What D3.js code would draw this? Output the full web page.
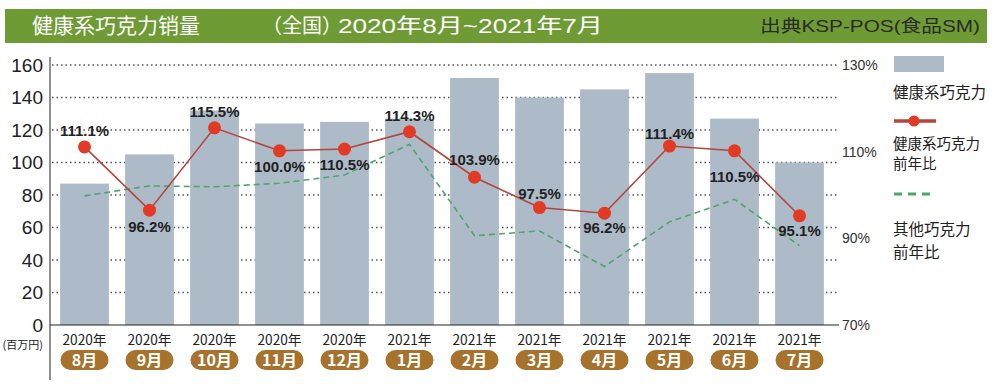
<!DOCTYPE html>
<html>
<head>
<meta charset="utf-8">
<script src="https://cdn.jsdelivr.net/npm/d3@7"></script>
<style>
  html, body { margin: 0; padding: 0; background: #fff; }
  svg { display: block; }
  text { font-family: "Liberation Sans", Arial, "Noto Sans CJK JP", sans-serif; }
  .cjk { font-family: "Noto Sans CJK JP", "Noto Sans CJK SC", sans-serif; }
</style>
</head>
<body>
<div id="chart"></div>
<script>
// DATA
const years = ["2020年", "2020年", "2020年", "2020年", "2020年", "2021年", "2021年", "2021年", "2021年", "2021年", "2021年", "2021年"];
const months = ["8月", "9月", "10月", "11月", "12月", "1月", "2月", "3月", "4月", "5月", "6月", "7月"];
// 健康系巧克力 sales (百万円)
const healthySales = [87, 105, 132, 124, 125, 127, 152, 140, 145, 155, 127, 100];
// 健康系巧克力 前年比 (as plotted)
const healthyYoY = [111.1, 96.5, 115.5, 110.2, 110.6, 114.6, 104.1, 97.1, 95.8, 111.3, 110.2, 95.2];
// labels printed next to the points
const healthyYoYLabels = ["111.1%", "96.2%", "115.5%", "100.0%", "110.5%", "114.3%", "103.9%", "97.5%", "96.2%", "111.4%", "110.5%", "95.1%"];
// 其他巧克力 前年比
const otherYoY = [99.8, 102.1, 101.9, 102.7, 104.6, 111.7, 90.6, 91.7, 83.5, 93.8, 99.0, 88.3];
const leftTicks = [0, 20, 40, 60, 80, 100, 120, 140, 160];
const rightTicks = [70, 90, 110, 130];

// colours
const headerGreen = "#6e9b34";
const barGrey = "#adbac8";
const lineRed = "#b5453a";
const dotRed = "#e23a24";
const dashGreen = "#4fa66c";
const badgeBrown = "#a6722c";

const width = 1003, height = 390;

const svg = d3.select("#chart").append("svg")
    .attr("width", width)
    .attr("height", height);

// HEADER
svg.append("rect")
    .attr("x", 5).attr("y", 9)
    .attr("width", 982).attr("height", 34)
    .attr("fill", headerGreen);

svg.append("text").attr("class", "cjk")
    .attr("x", 32).attr("y", 33)
    .attr("fill", "#fff").attr("font-size", 21)
    .text("健康系巧克力销量");

svg.append("text").attr("class", "cjk")
    .attr("x", 262).attr("y", 33)
    .attr("fill", "#fff").attr("font-size", 20)
    .text("（全国）");

svg.append("text")
    .attr("x", 338).attr("y", 33)
    .attr("fill", "#fff").attr("font-size", 20)
    .attr("textLength", 265).attr("lengthAdjust", "spacingAndGlyphs")
    .text("2020年8月~2021年7月");

svg.append("text")
    .attr("x", 760).attr("y", 32)
    .attr("fill", "#2a2a2a").attr("font-size", 17)
    .attr("textLength", 220).attr("lengthAdjust", "spacingAndGlyphs")
    .text("出典KSP-POS(食品SM)");

// SCALES
const x = d3.scaleBand()
    .domain(d3.range(months.length))
    .range([52, 832])
    .paddingInner(0.25)
    .paddingOuter(0.125);

const yL = d3.scaleLinear().domain([0, 160]).range([325, 65]);
const yR = d3.scaleLinear().domain([70, 130]).range([325, 65]);
const cx = i => x(i) + x.bandwidth() / 2;

// dotted gridlines
svg.append("g")
    .selectAll("line")
    .data(leftTicks.slice(1))
    .join("line")
    .attr("x1", 52).attr("x2", 837)
    .attr("y1", d => yL(d)).attr("y2", d => yL(d))
    .attr("stroke", "#555")
    .attr("stroke-width", 1.5)
    .attr("stroke-dasharray", "1.5,3");

// bars
svg.append("g")
    .selectAll("rect")
    .data(healthySales)
    .join("rect")
    .attr("x", (d, i) => x(i))
    .attr("width", x.bandwidth())
    .attr("y", d => yL(d))
    .attr("height", d => yL(0) - yL(d))
    .attr("fill", barGrey);

// left axis
const leftAxis = svg.append("g")
    .attr("transform", "translate(50,0)")
    .call(d3.axisLeft(yL).tickValues(leftTicks).tickSize(0).tickPadding(7));
leftAxis.select(".domain").remove();
leftAxis.selectAll("text")
    .attr("font-size", 19)
    .attr("fill", "#222")
    .style("font-family", "'Liberation Sans', Arial, sans-serif");

svg.append("text").attr("class", "cjk")
    .attr("x", 43).attr("y", 349)
    .attr("text-anchor", "end")
    .attr("font-size", 11)
    .attr("fill", "#222")
    .text("(百万円)");

svg.append("line")
    .attr("x1", 50).attr("x2", 50)
    .attr("y1", 57).attr("y2", 380)
    .attr("stroke", "#222").attr("stroke-width", 1);

// baseline
svg.append("line")
    .attr("x1", 50).attr("x2", 839)
    .attr("y1", yL(0)).attr("y2", yL(0))
    .attr("stroke", "#222").attr("stroke-width", 1);

// right axis
const rightAxis = svg.append("g")
    .attr("transform", "translate(837,0)")
    .call(d3.axisRight(yR).tickValues(rightTicks).tickSize(0).tickPadding(5).tickFormat(d => d + "%"));
rightAxis.select(".domain").remove();
rightAxis.selectAll("text")
    .attr("font-size", 14)
    .attr("fill", "#333")
    .style("font-family", "'Liberation Sans', Arial, sans-serif");

// other chocolate YoY (green dashed)
svg.append("path")
    .datum(otherYoY)
    .attr("d", d3.line().x((d, i) => cx(i)).y(d => yR(d)))
    .attr("fill", "none")
    .attr("stroke", dashGreen)
    .attr("stroke-width", 1.6)
    .attr("stroke-dasharray", "6,4");

// healthy chocolate YoY (red)
svg.append("path")
    .datum(healthyYoY)
    .attr("d", d3.line().x((d, i) => cx(i)).y(d => yR(d)))
    .attr("fill", "none")
    .attr("stroke", lineRed)
    .attr("stroke-width", 1.6);

svg.append("g")
    .selectAll("circle")
    .data(healthyYoY)
    .join("circle")
    .attr("cx", (d, i) => cx(i))
    .attr("cy", d => yR(d))
    .attr("r", 6.5)
    .attr("fill", dotRed);

// value labels, above (negative) or below (positive) the point
const labelDy = [-11, 22, -11, 21, 21, -11, -12, -9, 20, -7, 31, 20];
svg.append("g")
    .selectAll("text")
    .data(healthyYoY)
    .join("text")
    .attr("x", (d, i) => cx(i))
    .attr("y", (d, i) => yR(d) + labelDy[i])
    .attr("text-anchor", "middle")
    .attr("font-size", 15)
    .attr("font-weight", "bold")
    .attr("fill", "#222")
    .text((d, i) => healthyYoYLabels[i]);

// x labels: year + month badge
const xl = svg.append("g")
    .selectAll("g")
    .data(months)
    .join("g")
    .attr("transform", (d, i) => `translate(${cx(i)},0)`);

xl.append("text").attr("class", "cjk")
    .attr("y", 345)
    .attr("text-anchor", "middle")
    .attr("font-size", 14)
    .attr("fill", "#222")
    .attr("textLength", 44)
    .attr("lengthAdjust", "spacingAndGlyphs")
    .text((d, i) => years[i]);

xl.append("rect")
    .attr("x", -24).attr("y", 350)
    .attr("width", 48).attr("height", 20)
    .attr("rx", 10)
    .attr("fill", badgeBrown);

xl.append("text").attr("class", "cjk")
    .attr("y", 366)
    .attr("text-anchor", "middle")
    .attr("font-size", 16)
    .attr("font-weight", "bold")
    .attr("fill", "#fff")
    .text(d => d);

// LEGEND
const legend = svg.append("g");
legend.append("rect")
    .attr("x", 894).attr("y", 56)
    .attr("width", 50).attr("height", 16)
    .attr("fill", barGrey);
legend.append("text").attr("class", "cjk")
    .attr("x", 893).attr("y", 98)
    .attr("font-size", 15.5).attr("fill", "#222")
    .text("健康系巧克力");

legend.append("line")
    .attr("x1", 894).attr("x2", 936)
    .attr("y1", 121).attr("y2", 121)
    .attr("stroke", lineRed).attr("stroke-width", 3.5);
legend.append("circle")
    .attr("cx", 914).attr("cy", 121).attr("r", 5.5)
    .attr("fill", dotRed);
legend.append("text").attr("class", "cjk")
    .attr("x", 893).attr("y", 149)
    .attr("font-size", 14.5).attr("fill", "#222")
    .text("健康系巧克力");
legend.append("text").attr("class", "cjk")
    .attr("x", 893).attr("y", 169)
    .attr("font-size", 14.5).attr("fill", "#222")
    .text("前年比");

legend.append("line")
    .attr("x1", 894).attr("x2", 936)
    .attr("y1", 194).attr("y2", 194)
    .attr("stroke", dashGreen).attr("stroke-width", 3)
    .attr("stroke-dasharray", "8,6");
legend.append("text").attr("class", "cjk")
    .attr("x", 893).attr("y", 235)
    .attr("font-size", 15.5).attr("fill", "#222")
    .text("其他巧克力");
legend.append("text").attr("class", "cjk")
    .attr("x", 893).attr("y", 258)
    .attr("font-size", 15.5).attr("fill", "#222")
    .text("前年比");
</script>
</body>
</html>
